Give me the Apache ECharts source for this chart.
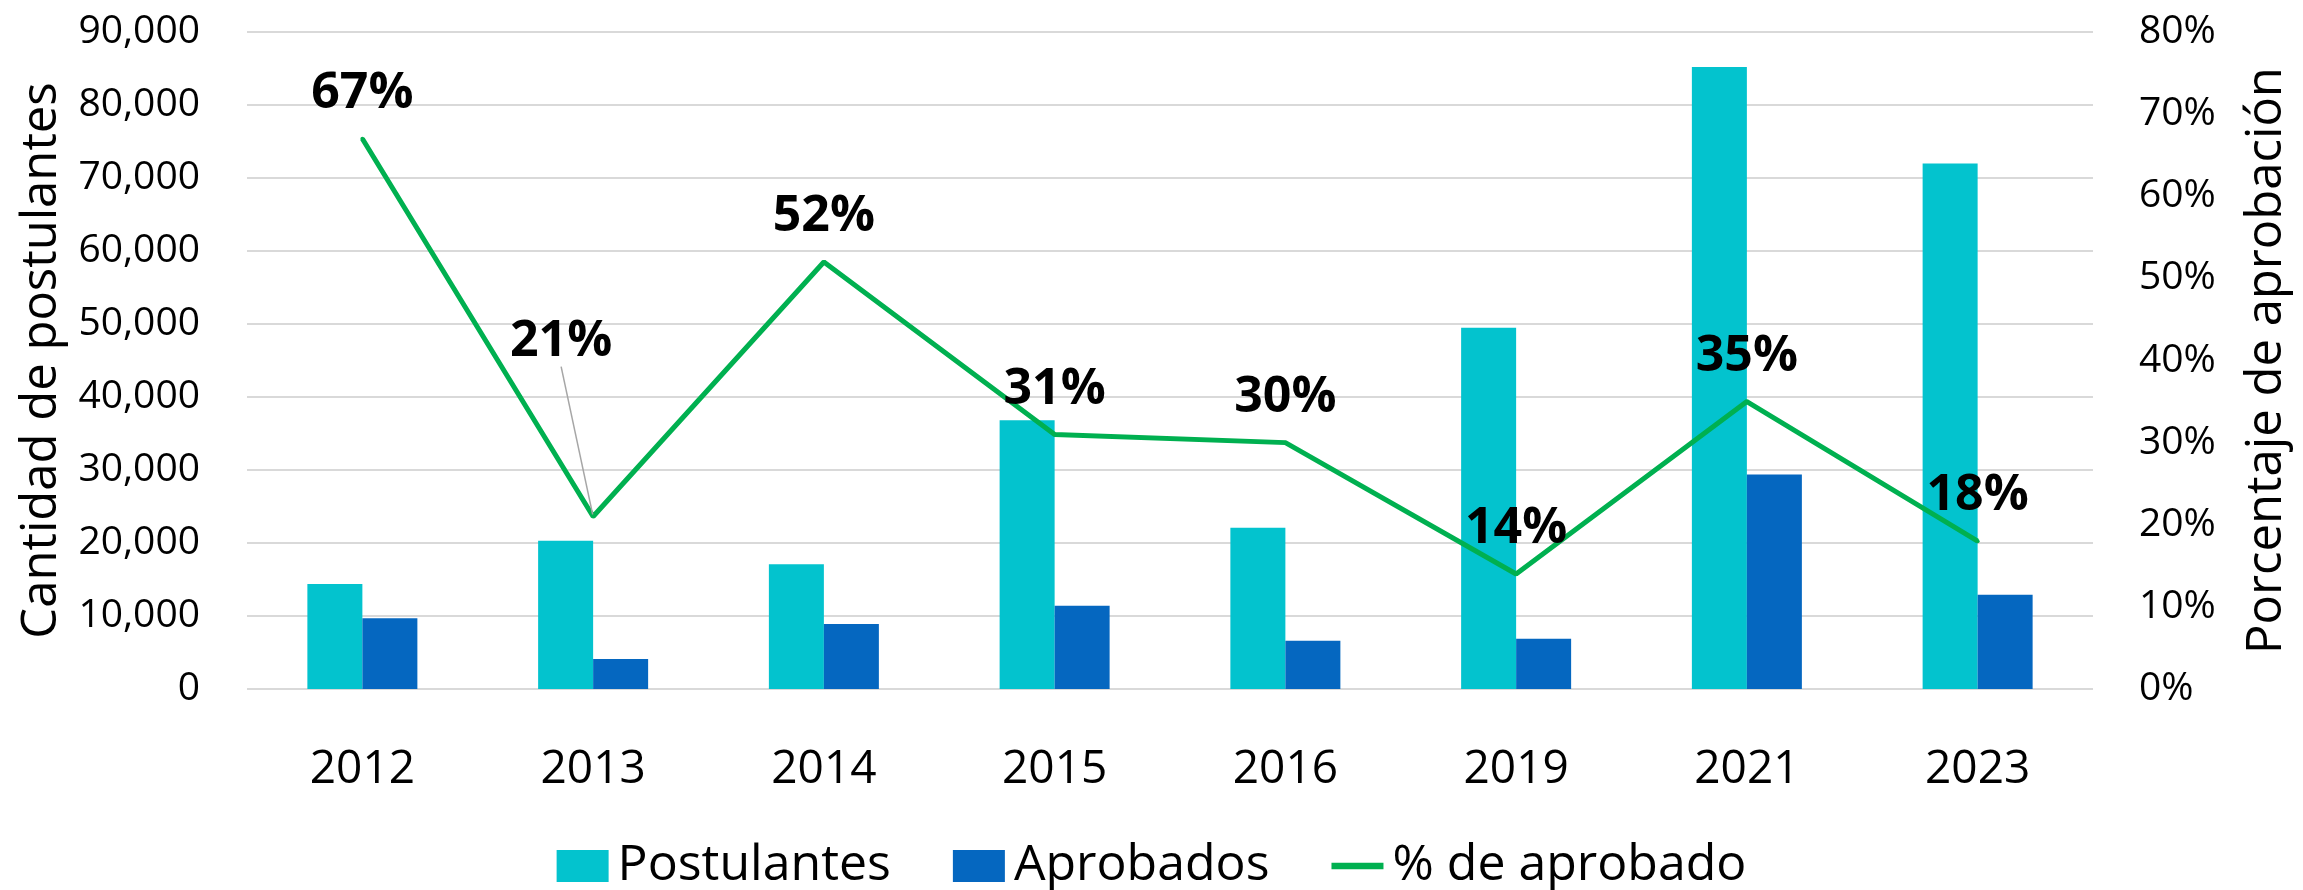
<!DOCTYPE html>
<html>
<head>
<meta charset="utf-8">
<script src="https://cdn.jsdelivr.net/npm/echarts@6/dist/echarts.min.js"></script>
<style>
  html, body { margin: 0; padding: 0; background: #fff; }
  #chart { width: 2303px; height: 890px; }
</style>
</head>
<body>
<div id="chart"></div>
<script>
const years = ['2012', '2013', '2014', '2015', '2016', '2019', '2021', '2023'];
const postulantes = [14400, 20300, 17100, 36800, 22100, 49500, 85200, 72000];
const aprobados = [9700, 4100, 8900, 11400, 6600, 6900, 29400, 12900];
const pctAprobado = [0.67, 0.21, 0.52, 0.31, 0.30, 0.14, 0.35, 0.18];
const leftTicks = { min: 0, max: 90000, interval: 10000 };
const rightTicks = { min: 0, max: 0.8, interval: 0.1 };

const FONT = '"Open Sans", "Noto Sans", sans-serif';
const chart = echarts.init(document.getElementById('chart'), null, { renderer: 'canvas' });

const lineData = pctAprobado.map((v, i) => i === 1
  ? { value: v, labelLine: { show: true, lineStyle: { color: '#A6A6A6', width: 1.5 } } }
  : v);

chart.setOption({
  animation: false,
  backgroundColor: '#ffffff',
  textStyle: { fontFamily: FONT },
  grid: { left: 247, right: 210, top: 32, bottom: 201, containLabel: false },
  legend: {
    top: 836,
    left: 'center',
    itemWidth: 52,
    itemHeight: 32,
    itemGap: 62,
    textStyle: { fontSize: 50, color: '#000', fontFamily: FONT, padding: [0, 0, 0, 4] },
    data: [
      { name: 'Postulantes', icon: 'rect' },
      { name: 'Aprobados', icon: 'rect' },
      { name: '% de aprobado', icon: 'path://M0 0H56V7H0Z' }
    ]
  },
  xAxis: {
    type: 'category',
    data: years,
    axisLine: { show: false },
    axisTick: { show: false },
    axisLabel: { fontSize: 46, color: '#000', margin: 58, fontFamily: FONT }
  },
  yAxis: [
    {
      type: 'value',
      min: leftTicks.min, max: leftTicks.max, interval: leftTicks.interval,
      name: 'Cantidad de postulantes',
      nameLocation: 'middle',
      nameGap: 180,
      nameTextStyle: { fontSize: 49, color: '#000', fontFamily: FONT },
      axisLine: { show: false },
      axisTick: { show: false },
      axisLabel: {
        fontSize: 39, color: '#000', margin: 47, fontFamily: FONT,
        formatter: v => v.toLocaleString('en-US')
      },
      splitLine: { lineStyle: { color: '#D9D9D9', width: 2 } }
    },
    {
      type: 'value',
      position: 'right',
      min: rightTicks.min, max: rightTicks.max, interval: rightTicks.interval,
      name: 'Porcentaje de aprobación',
      nameLocation: 'middle',
      nameGap: 150,
      nameTextStyle: { fontSize: 49, color: '#000', fontFamily: FONT },
      axisLine: { show: false },
      axisTick: { show: false },
      axisLabel: {
        fontSize: 39, color: '#000', margin: 46, fontFamily: FONT,
        formatter: v => Math.round(v * 100) + '%'
      },
      splitLine: { show: false }
    }
  ],
  series: [
    {
      name: 'Postulantes',
      type: 'bar',
      yAxisIndex: 0,
      data: postulantes,
      barWidth: 55,
      barGap: '0%',
      itemStyle: { color: '#03C3CE' }
    },
    {
      name: 'Aprobados',
      type: 'bar',
      yAxisIndex: 0,
      data: aprobados,
      barWidth: 55,
      barGap: '0%',
      itemStyle: { color: '#0567C0' }
    },
    {
      name: '% de aprobado',
      type: 'line',
      yAxisIndex: 1,
      data: lineData,
      symbol: 'circle',
      symbolSize: 4,
      showSymbol: true,
      itemStyle: { color: '#00B050' },
      lineStyle: { color: '#00B050', width: 5 },
      z: 5,
      label: {
        show: true,
        position: 'top',
        distance: 18,
        fontSize: 50,
        fontWeight: 'bold',
        color: '#000',
        fontFamily: FONT,
        formatter: p => Math.round(p.value * 100) + '%'
      },
      labelLine: { show: false },
      labelLayout: function (params) {
        if (params.dataIndex === 1) return { dx: -32, dy: -130 };
        return {};
      }
    }
  ]
});
</script>
</body>
</html>
